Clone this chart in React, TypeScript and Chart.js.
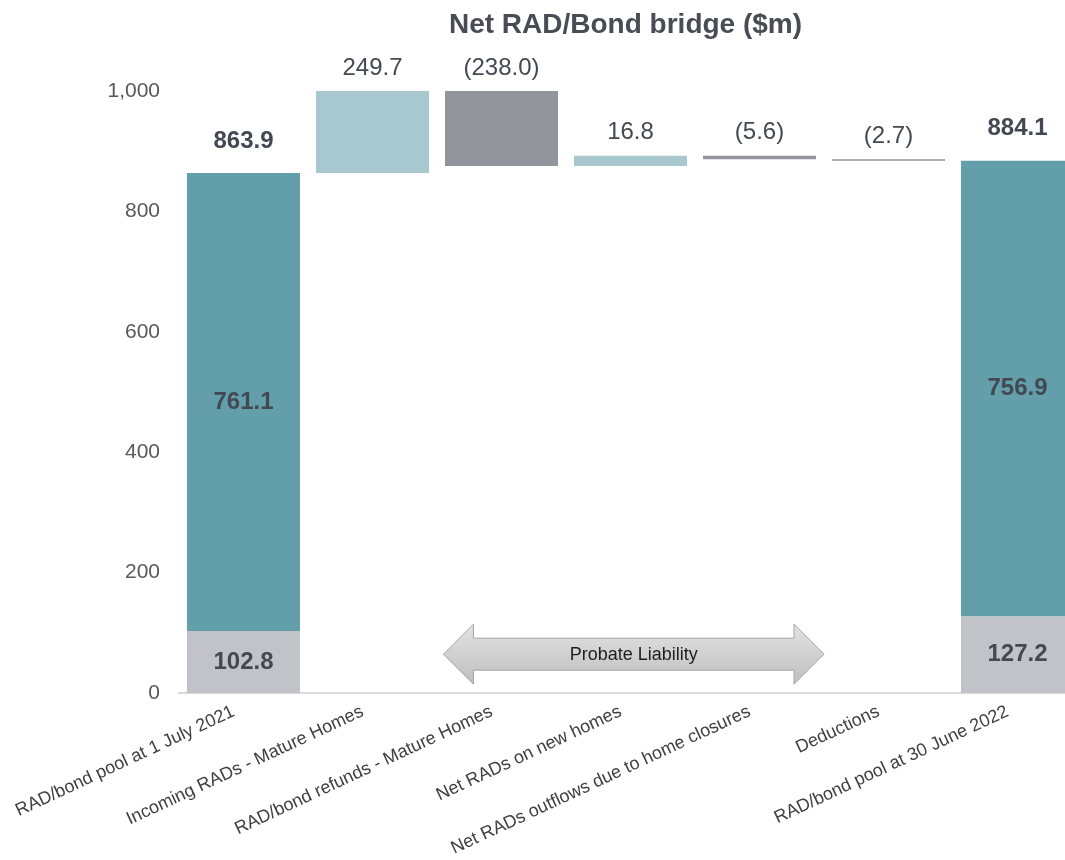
import { useEffect, useRef } from "react";
import { Chart, registerables } from "chart.js";

Chart.register(...registerables);

// Bridge categories (x axis)
const categories = [
  "RAD/bond pool at 1 July 2021",
  "Incoming RADs - Mature Homes",
  "RAD/bond refunds - Mature Homes",
  "Net RADs on new homes",
  "Net RADs outflows due to home closures",
  "Deductions",
  "RAD/bond pool at 30 June 2022",
];

// Opening and closing pool split ($m): probate liability at the bottom, the rest on top
const openingSplit = [102.8, 761.1];
const closingSplit = [127.2, 756.9];

// Movements between opening and closing pool ($m)
const movements = [249.7, -238.0, 16.8, -5.6, -2.7];

const yTicks = [0, 200, 400, 600, 800, 1000];
const chartTitle = "Net RAD/Bond bridge ($m)";
const arrowText = "Probate Liability";

const FONT = '"Liberation Sans", Arial, sans-serif';
const C_TEAL = "#629fab";
const C_LIGHT_TEAL = "#a7c8ce";
const C_DARK_GREY = "#92959c";
const C_BASE_GREY = "#c2c3c8";
const C_LABEL = "#434952";

const r1 = (v: number) => Math.round(v * 10) / 10;

export default function App() {
  const canvasRef = useRef<HTMLCanvasElement | null>(null);

  useEffect(() => {
    const canvas = canvasRef.current;
    if (!canvas) return;

    const n = categories.length;
    const opening = r1(openingSplit[0] + openingSplit[1]);
    const closing = r1(closingSplit[0] + closingSplit[1]);

    // running totals for floating bars
    const steps: [number, number][] = [];
    let run = opening;
    movements.forEach((m) => {
      const next = r1(run + m);
      steps.push([run, next]);
      run = next;
    });

    const empty = () => new Array(n).fill(null) as any[];
    const probateData = empty();
    probateData[0] = [0, openingSplit[0]];
    probateData[n - 1] = [0, closingSplit[0]];
    const otherData = empty();
    otherData[0] = [openingSplit[0], opening];
    otherData[n - 1] = [closingSplit[0], closing];
    const upData = empty();
    const downData = empty();
    steps.forEach((s, i) => {
      const lo = Math.min(s[0], s[1]);
      const hi = Math.max(s[0], s[1]);
      if (movements[i] >= 0) upData[i + 1] = [lo, hi];
      else downData[i + 1] = [lo, hi];
    });

    const labelPlugin = {
      id: "bridgeLabels",
      afterDatasetsDraw(chart: any) {
        const { ctx, chartArea } = chart;
        const xs = chart.scales.x;
        const ys = chart.scales.y;
        ctx.save();
        ctx.textAlign = "center";
        ctx.textBaseline = "middle";

        // title
        ctx.fillStyle = "#474c55";
        ctx.font = `bold 28px ${FONT}`;
        ctx.fillText(chartTitle, (chartArea.left + chartArea.right) / 2 - 5, 25);

        // totals and their split
        const totals: [number, number[], number][] = [
          [0, openingSplit, opening],
          [n - 1, closingSplit, closing],
        ];
        ctx.font = `bold 24px ${FONT}`;
        ctx.fillStyle = C_LABEL;
        totals.forEach(([idx, split, total]) => {
          const x = xs.getPixelForValue(idx);
          ctx.fillText(total.toFixed(1), x, ys.getPixelForValue(total) - 32);
          ctx.fillText(split[0].toFixed(1), x, ys.getPixelForValue(split[0] / 2));
          ctx.fillText(split[1].toFixed(1), x, ys.getPixelForValue(split[0] + split[1] / 2));
        });

        // movements
        ctx.font = `24px ${FONT}`;
        movements.forEach((m, i) => {
          const x = xs.getPixelForValue(i + 1);
          const top = Math.max(steps[i][0], steps[i][1]);
          const yTop = Math.max(ys.getPixelForValue(top), chartArea.top);
          const txt = m < 0 ? `(${Math.abs(m).toFixed(1)})` : m.toFixed(1);
          ctx.fillText(txt, x, yTop - 23);
        });

        // double-headed arrow marking the probate liability
        const xL = xs.getPixelForValue(1.55);
        const xR = xs.getPixelForValue(4.5);
        const yc = ys.getPixelForValue(64.5);
        const head = 30;
        const hh = 30;
        const sh = 16;
        ctx.beginPath();
        ctx.moveTo(xL, yc);
        ctx.lineTo(xL + head, yc - hh);
        ctx.lineTo(xL + head, yc - sh);
        ctx.lineTo(xR - head, yc - sh);
        ctx.lineTo(xR - head, yc - hh);
        ctx.lineTo(xR, yc);
        ctx.lineTo(xR - head, yc + hh);
        ctx.lineTo(xR - head, yc + sh);
        ctx.lineTo(xL + head, yc + sh);
        ctx.lineTo(xL + head, yc + hh);
        ctx.closePath();
        const g = ctx.createLinearGradient(0, yc - hh, 0, yc + hh);
        g.addColorStop(0, "#e2e2e2");
        g.addColorStop(1, "#bfbfbf");
        ctx.fillStyle = g;
        ctx.fill();
        ctx.strokeStyle = "#a5a5a5";
        ctx.lineWidth = 1;
        ctx.stroke();
        ctx.fillStyle = "#1e1e1e";
        ctx.font = `18px ${FONT}`;
        ctx.fillText(arrowText, (xL + xR) / 2, yc + 1);

        ctx.restore();
      },
    };

    const common = {
      grouped: false,
      categoryPercentage: 1,
      barPercentage: 0.876,
      borderWidth: 0,
      borderSkipped: false,
    };

    const chart = new Chart(canvas, {
      type: "bar",
      data: {
        labels: categories,
        datasets: [
          { ...common, label: "probate", data: probateData, backgroundColor: C_BASE_GREY },
          { ...common, label: "other", data: otherData, backgroundColor: C_TEAL },
          { ...common, label: "increase", data: upData, backgroundColor: C_LIGHT_TEAL },
          { ...common, label: "decrease", data: downData, backgroundColor: C_DARK_GREY },
        ] as any,
      },
      options: {
        animation: false,
        responsive: false,
        layout: { padding: { top: 91, right: 6, left: 0, bottom: 0 } },
        plugins: {
          legend: { display: false },
          title: { display: false },
          tooltip: { enabled: false },
        },
        scales: {
          x: {
            grid: { display: false, drawTicks: false },
            border: { display: true, color: "#d9d9d9", width: 2 },
            ticks: {
              autoSkip: false,
              minRotation: 25,
              maxRotation: 25,
              padding: 8,
              labelOffset: -10,
              color: "#404040",
              font: { family: FONT, size: 18 },
            },
            afterFit(scale: any) {
              scale.height = 167;
              scale.paddingLeft = 0;
              scale.paddingRight = 0;
            },
          },
          y: {
            min: 0,
            max: 1000,
            grid: { display: false, drawTicks: false },
            border: { display: false },
            afterBuildTicks(scale: any) {
              scale.ticks = yTicks.map((v) => ({ value: v }));
            },
            ticks: {
              padding: 19,
              color: "#595959",
              font: { family: FONT, size: 21 },
              callback: (v: any) => Number(v).toLocaleString("en-US"),
            },
            afterFit(scale: any) {
              scale.width = 179;
            },
          },
        },
      },
      plugins: [labelPlugin],
    });

    return () => chart.destroy();
  }, []);

  return (
    <div
      style={{
        position: "fixed",
        left: 0,
        top: 0,
        width: 1065,
        height: 860,
        overflow: "hidden",
        background: "#ffffff",
      }}
    >
      <canvas ref={canvasRef} width={1088} height={860} style={{ display: "block", width: 1088, height: 860 }} />
    </div>
  );
}
